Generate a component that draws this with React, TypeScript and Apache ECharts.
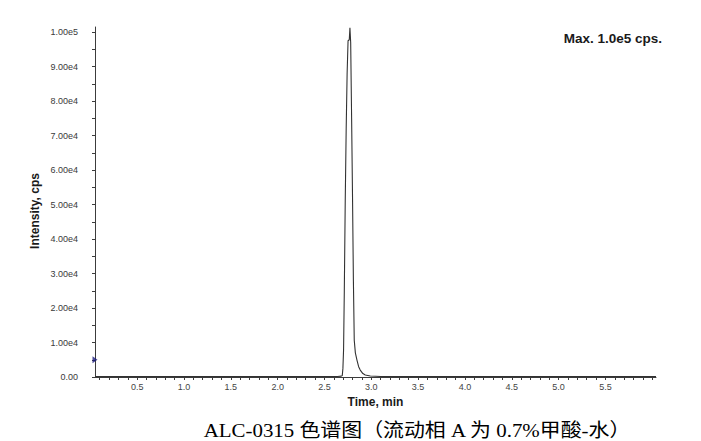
import React, { useEffect, useRef } from "react";
import * as echarts from "echarts";

// Chromatogram (time in min, intensity in cps)
const TIMES = [
  0.05, 0.5, 1.0, 1.5, 2.0, 2.5, 2.64, 2.68, 2.69, 2.697, 2.704, 2.712, 2.722,
  2.732, 2.742, 2.752, 2.765, 2.772, 2.78, 2.79, 2.8, 2.809, 2.818, 2.83, 2.847,
  2.865, 2.882, 2.91, 2.936, 2.99, 3.1, 3.5, 4.0, 4.5, 5.0, 5.5, 6.04,
];
const INTENSITY = [
  120, 110, 120, 110, 120, 130, 150, 250, 400, 2500, 7800, 25000, 51300,
  72000, 88000, 97500, 97800, 101300, 97000, 75000, 51300, 28000, 10700, 7000,
  4900, 3000, 2000, 1000, 580, 300, 150, 110, 100, 100, 100, 100, 100,
];

// Threshold marker shown on the intensity axis
const MARKER = [[0.05, 5000]];

// Axis ticks / labels
const X_LABELS = [0.5, 1.0, 1.5, 2.0, 2.5, 3.0, 3.5, 4.0, 4.5, 5.0, 5.5];
const Y_LABELS = [0, 10000, 20000, 30000, 40000, 50000, 60000, 70000, 80000, 90000, 100000];

const CAPTION = "ALC-0315 色谱图（流动相 A 为 0.7%甲酸-水）";
const MAX_TEXT = "Max. 1.0e5 cps.";

export default function App() {
  const ref = useRef<HTMLDivElement>(null);
  useEffect(() => {
    if (!ref.current) return;
    const chart = echarts.init(ref.current, null, { renderer: "svg" });
    const sans = "'Liberation Sans', Arial, sans-serif";
    const axisColor = "#3c3c3c";
    const xTicks: number[] = [];
    for (let i = 1; i <= 60; i++) xTicks.push(i / 10);
    const yTicks: number[] = [];
    for (let i = 0; i <= 20; i++) yTicks.push(i * 5000);
    chart.setOption({
      animation: false,
      backgroundColor: "#ffffff",
      grid: { left: 95, right: 45, top: 27, bottom: 64, containLabel: false },
      xAxis: {
        type: "value",
        min: 0.05,
        max: 6.04,
        name: "Time, min",
        nameLocation: "middle",
        nameGap: 6,
        nameTextStyle: { fontFamily: sans, fontSize: 12, fontWeight: "bold", color: "#1a1a1a" },
        axisLine: { show: true, onZero: false, lineStyle: { color: axisColor, width: 1 } },
        axisTick: { show: true, length: 3, customValues: xTicks, lineStyle: { color: axisColor } },
        axisLabel: {
          show: true,
          customValues: X_LABELS,
          margin: 5,
          fontFamily: sans,
          fontSize: 9,
          color: "#444",
          formatter: (v: number) => v.toFixed(1),
        },
        splitLine: { show: false },
      },
      yAxis: {
        type: "value",
        min: 0,
        max: 101500,
        axisLine: { show: true, onZero: false, lineStyle: { color: axisColor, width: 1 } },
        axisTick: { show: true, length: 3, customValues: yTicks, lineStyle: { color: axisColor } },
        axisLabel: {
          show: true,
          customValues: Y_LABELS,
          margin: 17,
          fontFamily: sans,
          fontSize: 9,
          color: "#3a3a3a",
          formatter: (v: number) => (v === 0 ? "0.00" : v.toExponential(2).replace("e+", "e")),
        },
        splitLine: { show: false },
      },
      series: [
        {
          type: "line",
          data: TIMES.map((t, i) => [t, INTENSITY[i]]),
          showSymbol: false,
          symbol: "none",
          lineStyle: { color: "#333333", width: 1.1 },
          z: 3,
        },
        {
          type: "scatter",
          data: MARKER,
          symbol: "triangle",
          symbolRotate: -90,
          symbolSize: [7, 5],
          itemStyle: { color: "#1e1e7e" },
          clip: false,
          z: 5,
        },
      ],
      graphic: [
        {
          type: "text",
          x: 35,
          y: 211,
          rotation: Math.PI / 2,
          style: {
            text: "Intensity, cps",
            fontFamily: sans,
            fontSize: 12,
            fontWeight: "bold",
            fill: "#1a1a1a",
            align: "center",
            verticalAlign: "middle",
          },
        },
        {
          type: "text",
          x: 662,
          y: 38,
          style: {
            text: MAX_TEXT,
            fontFamily: sans,
            fontSize: 13.5,
            fontWeight: "bold",
            fill: "#1a1a1a",
            align: "right",
            verticalAlign: "middle",
          },
        },
        {
          type: "text",
          x: 417,
          y: 430,
          scaleX: 1.1,
          style: {
            text: CAPTION,
            fontFamily: "'Liberation Serif', 'Times New Roman', 'Noto Sans CJK SC', serif",
            fontSize: 19,
            fill: "#000",
            align: "center",
            verticalAlign: "middle",
          },
        },
      ],
    });
    return () => chart.dispose();
  }, []);
  return (
    <div
      ref={ref}
      style={{ position: "absolute", left: 0, top: 0, width: 701, height: 441 }}
    />
  );
}
